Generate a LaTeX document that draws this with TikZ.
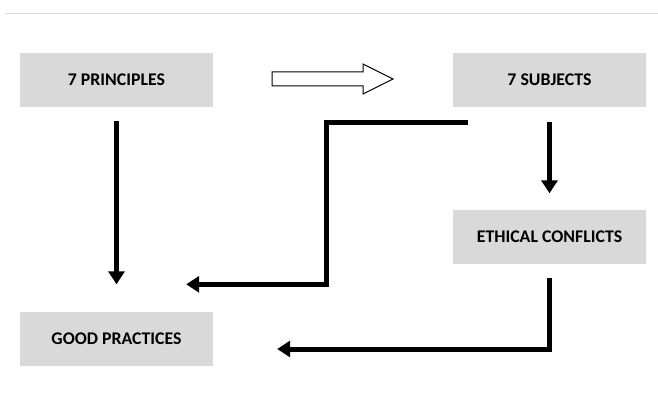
\documentclass[tikz,border=0pt]{standalone}
\usepackage{fontspec}
\setmainfont{Carlito}
\usetikzlibrary{arrows.meta}
\begin{document}
\begin{tikzpicture}[x=1pt, y=-1pt, line join=miter,
    box/.style={fill=black!15, minimum width=193pt, minimum height=54pt, inner sep=0pt,
      font=\fontsize{17.8}{20}\selectfont\bfseries},
    flow/.style={line width=5pt, -{Triangle[length=13pt, width=16pt]}}]
  \useasboundingbox (0,0) rectangle (658,393);
  % thin rule along the top
  \draw[black!15, line width=1.5pt] (6,13.5) -- (658,13.5);
  % boxes
  \node[box] (princ) at (116.5,80) {7 PRINCIPLES};
  \node[box] (subj) at (549.5,80) {7 SUBJECTS};
  \node[box] (confl) at (549.5,236.5) {ETHICAL CONFLICTS};
  \node[box] (good) at (116.5,338.5) {GOOD PRACTICES};
  % hollow arrow between the top boxes
  \draw[line width=1pt] (272,72) -- (363,72) -- (363,64) -- (393,79) -- (363,94) -- (363,86) -- (272,86) -- cycle;
  % connectors
  \draw[flow] ([yshift=-14pt]princ.south) -- ([yshift=27pt]good.north);
  \draw[flow] ([yshift=-15pt]subj.south) -- ([yshift=16pt]confl.north);
  \draw[flow] ([xshift=15pt, yshift=-15pt]subj.south west) -- ++(-141,0) |- ([xshift=-27pt, yshift=27pt]good.north east);
  \draw[flow] ([yshift=-14pt]confl.south) |- ([xshift=64pt, yshift=-10.5pt]good.east);
\end{tikzpicture}
\end{document}
